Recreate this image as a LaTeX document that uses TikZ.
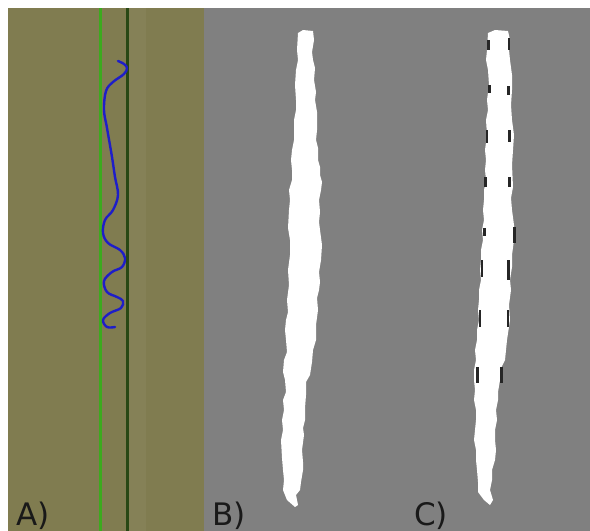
\documentclass[tikz,border=0pt]{standalone}
\usepackage{fontspec}
\newfontfamily\labelfont{DejaVu Sans}
\definecolor{olivebg}{RGB}{128,124,80}
\definecolor{graybg}{RGB}{128,128,128}
\definecolor{brightgreen}{RGB}{60,170,30}
\definecolor{darkgreen}{RGB}{40,72,20}
\definecolor{curveblue}{RGB}{30,30,200}
\definecolor{labelgray}{RGB}{25,25,25}
\tikzset{
  panellabel/.style={anchor=base west,inner sep=0pt,text=labelgray,font=\labelfont\fontsize{31}{31}\selectfont},
  strip/.style={fill=white,draw=none},
  speck/.style={fill=black!85,draw=none}
}
\begin{document}
\begin{tikzpicture}[x=1pt,y=-1pt]
\useasboundingbox (0,0) rectangle (590,531);
\fill[white] (0,0) rectangle (590,531);
% panels
\fill[olivebg] (8,8) rectangle (204,531);
\fill[graybg] (204,8) rectangle (590,531);
\fill[olivebg!96!white] (128,8) rectangle (146,531);
% vertical lines
\fill[brightgreen] (99,8) rectangle (102,531);
\fill[darkgreen] (126,8) rectangle (128.5,531);
% blue curve
\draw[curveblue,line width=2.4pt,line cap=round,line join=round]
  plot[smooth,tension=0.6] coordinates {(118,61) (124,64) (127,68) (124,74) (113,82) (106,91) (104,110) (107,128) (112,157) (115,177) (118,195) (113,210) (105,220) (103,233) (108,243) (120,250) (125,258) (122,267) (112,272) (104,281) (107,292) (117,297) (123,301) (121,308) (110,313) (103,320) (107,327) (115,327)};
% strip B
\fill[strip] (298,33) -- (303,30) -- (313,31) -- (314,40) -- (312,52) -- (313,60) -- (315,68) -- (314,80) -- (316,92) -- (315,100) -- (317,112) -- (317,130) -- (316,140) -- (318,148) -- (318,160) -- (320,167) -- (320,175) -- (322,182) -- (321,190) -- (319,200) -- (320,212) -- (319,222) -- (320,230) -- (322,245) -- (321,260) -- (319,272) -- (320,282) -- (319,290) -- (317,298) -- (318,310) -- (316,325) -- (316,340) -- (313,350) -- (312,362) -- (310,375) -- (306,382) -- (306,395) -- (305,408) -- (305,420) -- (303,428) -- (304,435) -- (302,450) -- (303,462) -- (303,470) -- (301,482) -- (300,490) -- (296,495) -- (298,505) -- (295,507) -- (287,500) -- (283,490) -- (284,480) -- (283,470) -- (282,458) -- (281,440) -- (283,430) -- (282,420) -- (284,410) -- (283,400) -- (286,392) -- (285,380) -- (283,372) -- (284,360) -- (287,352) -- (286,340) -- (285,330) -- (286,320) -- (288,312) -- (287,300) -- (289,285) -- (288,270) -- (290,255) -- (290,240) -- (288,228) -- (289,210) -- (290,200) -- (289,190) -- (292,180) -- (292,170) -- (291,160) -- (292,150) -- (294,140) -- (294,120) -- (296,110) -- (296,100) -- (295,85) -- (296,70) -- (298,60) -- (297,50) -- cycle;
% strip C
\fill[strip] (488,33) -- (495,30) -- (508,31) -- (510,40) -- (509,50) -- (510,60) -- (512,75) -- (512,90) -- (511,105) -- (512,120) -- (514,135) -- (513,150) -- (512,165) -- (513,187) -- (511,198) -- (512,210) -- (514,225) -- (514,240) -- (512,255) -- (512,267) -- (510,280) -- (511,290) -- (509,305) -- (510,320) -- (507,340) -- (506,350) -- (505,360) -- (501,368) -- (500,380) -- (498,392) -- (498,400) -- (496,410) -- (497,420) -- (495,430) -- (495,440) -- (496,450) -- (495,460) -- (492,470) -- (492,480) -- (490,490) -- (493,500) -- (490,505) -- (484,500) -- (478,492) -- (478,482) -- (477,470) -- (476,460) -- (476,450) -- (474,440) -- (475,430) -- (476,420) -- (476,410) -- (474,400) -- (475,390) -- (474,380) -- (474,370) -- (476,360) -- (475,350) -- (477,340) -- (477,330) -- (479,320) -- (478,310) -- (479,300) -- (479,290) -- (481,280) -- (480,270) -- (481,260) -- (481,250) -- (483,240) -- (482,230) -- (484,220) -- (483,210) -- (484,200) -- (484,190) -- (486,180) -- (485,170) -- (486,160) -- (485,150) -- (487,135) -- (486,120) -- (488,110) -- (487,100) -- (489,85) -- (488,70) -- (486,60) -- (487,50) -- cycle;
% specks on C
\foreach \xa/\ya/\xb/\yb in {487/40/489.5/50, 488/85/491/93, 485.5/130/488/143, 484/177/487/187, 483/228/486/236, 480.5/260/483/277, 478.5/310/481/327, 476/367/479/383,
  508/38/510/50, 507/86/509.5/95, 507.5/130/510.5/142, 508/177/510.5/187, 512.5/227/516/243, 507/260/509.5/280, 507/310/509/327, 500/367/502.5/383}
  \fill[speck] (\xa,\ya) rectangle (\xb,\yb);
% labels
\node[panellabel] (la) at (16,525) {A)};
\node[panellabel] (lb) at (212,525) {B)};
\node[panellabel] (lc) at (414,525) {C)};
\end{tikzpicture}
\end{document}
